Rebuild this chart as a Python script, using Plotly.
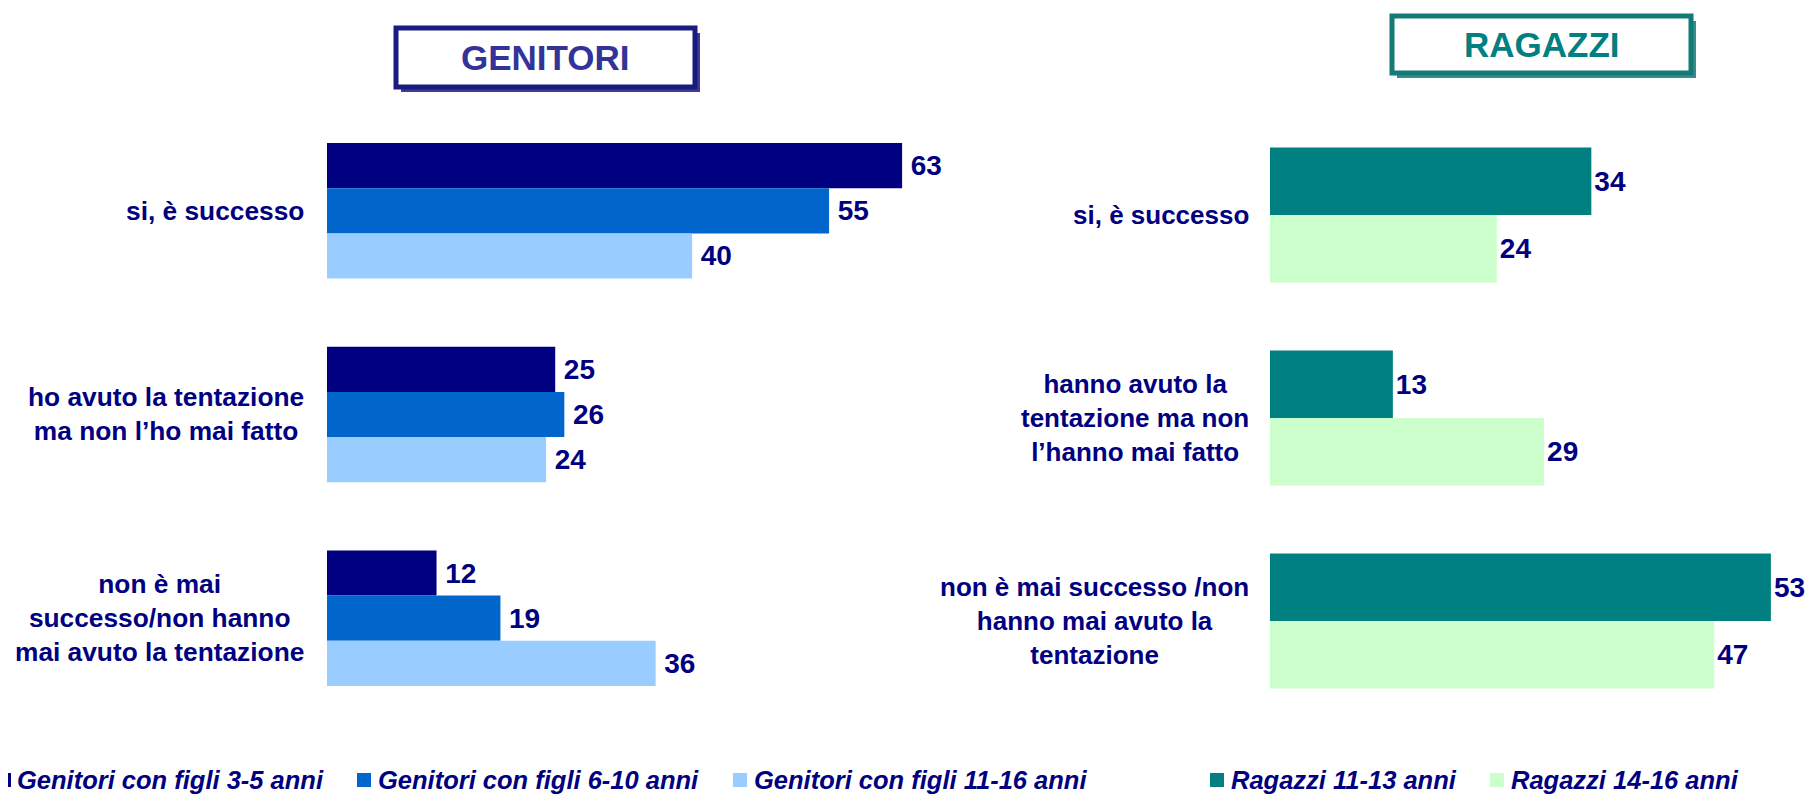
import plotly.graph_objects as go

# ---------------- data ----------------
gen_categories = ["si, è successo",
                  "ho avuto la tentazione<br>ma non l’ho mai fatto",
                  "non è mai<br>successo/non hanno<br>mai avuto la tentazione"]
gen_series = ["Genitori con figli 3-5 anni", "Genitori con figli 6-10 anni", "Genitori con figli 11-16 anni"]
gen_3_5 = [63, 25, 12]
gen_6_10 = [55, 26, 19]
gen_11_16 = [40, 24, 36]

rag_categories = ["si, è successo",
                  "hanno avuto la<br>tentazione ma non<br>l’hanno mai fatto",
                  "non è mai successo /non<br>hanno mai avuto la<br>tentazione"]
rag_series = ["Ragazzi 11-13 anni", "Ragazzi 14-16 anni"]
rag_11_13 = [34, 13, 53]
rag_14_16 = [24, 29, 47]

gen_colors = ["#000080", "#0066CC", "#99CCFF"]
rag_colors = ["#008080", "#CCFFCC"]

# page offset (browser body margin) and figure size (kept inside the viewport to avoid scrollbars)
OFF = 8
W, H = 1814 - 2 * OFF, 805 - 2 * OFF
NAVY = "#000080"
FONT = "Liberation Sans, Arial, sans-serif"


def px(x):
    return (x - OFF) / W


def py(y):
    return 1 - (y - OFF) / H


fig = go.Figure()

for name, vals, col in zip(gen_series, [gen_3_5, gen_6_10, gen_11_16], gen_colors):
    fig.add_trace(go.Bar(
        y=gen_categories, x=vals, orientation="h", name=name,
        marker=dict(color=col, line=dict(width=0)),
        text=vals, texttemplate="&#8201;%{text}", textposition="outside",
        textfont=dict(family=FONT, size=28, color=NAVY, weight="bold"),
        constraintext="none", cliponaxis=False,
        xaxis="x", yaxis="y", showlegend=False))

for name, vals, col in zip(rag_series, [rag_11_13, rag_14_16], rag_colors):
    fig.add_trace(go.Bar(
        y=rag_categories, x=vals, orientation="h", name=name,
        marker=dict(color=col, line=dict(width=0)),
        text=vals, texttemplate="%{text}", textposition="outside",
        textfont=dict(family=FONT, size=28, color=NAVY, weight="bold"),
        constraintext="none", cliponaxis=False,
        xaxis="x2", yaxis="y2", showlegend=False))

axis_common = dict(showgrid=False, zeroline=False, showline=False, showticklabels=False, ticks="")

fig.update_layout(
    width=W, height=H,
    margin=dict(l=0, r=0, t=0, b=0),
    paper_bgcolor="white", plot_bgcolor="white",
    barmode="group",
    bargap=0.335, bargroupgap=0,
    xaxis=dict(domain=[px(327), px(966)], range=[0, 70], **axis_common),
    yaxis=dict(domain=[py(720), py(109)], autorange="reversed", anchor="x", **axis_common),
    xaxis2=dict(domain=[px(1270), px(1800)], range=[0, 56.08], anchor="y2", **axis_common),
    yaxis2=dict(domain=[py(722.5), py(113.5)], autorange="reversed", anchor="x2", **axis_common),
    font=dict(family=FONT, color=NAVY),
)

# category labels (centered multi-line blocks, right edge near the bars)
for cat in gen_categories:
    fig.add_annotation(xref="x domain", yref="y", x=0, y=cat, xanchor="right", xshift=-21,
                       text=cat, showarrow=False, align="center",
                       font=dict(family=FONT, size=26.3, color=NAVY, weight="bold"))
for cat in rag_categories:
    fig.add_annotation(xref="x2 domain", yref="y2", x=0, y=cat, xanchor="right", xshift=-19,
                       text=cat, showarrow=False, align="center",
                       font=dict(family=FONT, size=26, color=NAVY, weight="bold"))


# title boxes
def title_box(x0, y0, x1, y1, line_col, text, text_col):
    fig.add_shape(type="rect", xref="paper", yref="paper",
                  x0=px(x0 + 5), x1=px(x1 + 5), y0=py(y1 + 5), y1=py(y0 + 5),
                  line=dict(width=0), fillcolor=line_col, opacity=0.85, layer="above")
    fig.add_shape(type="rect", xref="paper", yref="paper",
                  x0=px(x0), x1=px(x1), y0=py(y1), y1=py(y0),
                  line=dict(width=5, color=line_col), fillcolor="white", layer="above")
    fig.add_annotation(xref="paper", yref="paper", x=px((x0 + x1) / 2), y=py((y0 + y1) / 2),
                       xanchor="center", yanchor="middle", text=text, showarrow=False,
                       font=dict(family=FONT, size=35, color=text_col, weight="bold"))


title_box(396, 28, 695, 87, "#1a1a80", "GENITORI", "#333399")
title_box(1392, 16, 1691, 73, "#137a76", "RAGAZZI", "#008080")

# manual legend
legend_y = 780
gen_marker_x = [-4, 357, 733]
rag_marker_x = [1210, 1490]
items = list(zip(gen_series, gen_colors, gen_marker_x)) + list(zip(rag_series, rag_colors, rag_marker_x))
for name, col, mx in items:
    fig.add_shape(type="rect", xref="paper", yref="paper",
                  x0=max(px(mx), 0), x1=px(max(mx + 14, OFF + 3)), y0=py(legend_y + 7), y1=py(legend_y - 7),
                  line=dict(width=0), fillcolor=col)
    fig.add_annotation(xref="paper", yref="paper", x=px(mx + 19), y=py(legend_y),
                       xanchor="left", yanchor="middle", text=name, showarrow=False,
                       font=dict(family=FONT, size=25.5, color=NAVY, weight="bold", style="italic"))

fig.write_html("out.html")
